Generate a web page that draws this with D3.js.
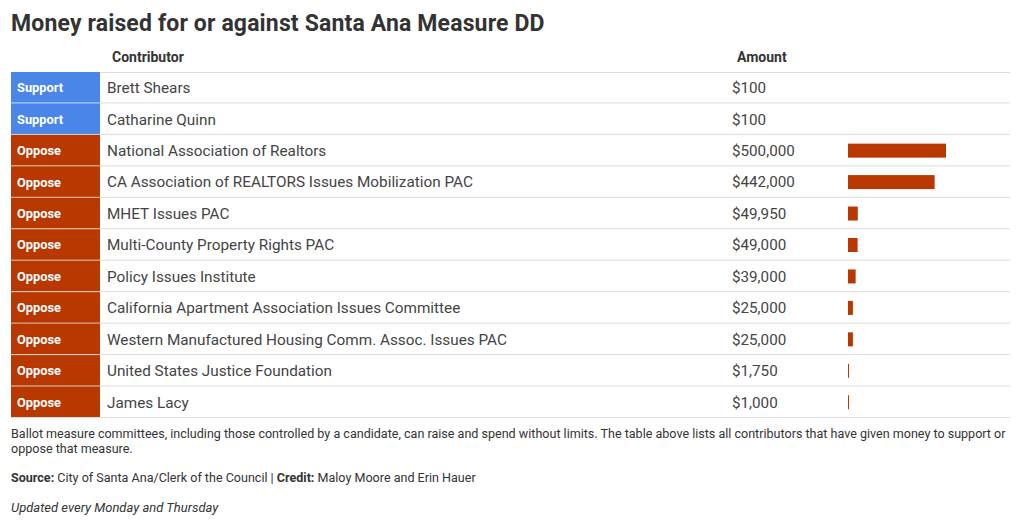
<!DOCTYPE html>
<html>
<head>
<meta charset="UTF-8">
<title>Money raised for or against Santa Ana Measure DD</title>
<script src="https://d3js.org/d3.v7.min.js"></script>
<style>
  body { margin: 0; background: #fff; font-family: Roboto, "Noto Sans", sans-serif; }
  text { font-family: Roboto, "Noto Sans", sans-serif; }
</style>
</head>
<body>
<div id="chart"></div>
<script>
// -- data --
const positions = ["Support", "Support", "Oppose", "Oppose", "Oppose", "Oppose", "Oppose", "Oppose", "Oppose", "Oppose", "Oppose"];
const contributors = [
  "Brett Shears",
  "Catharine Quinn",
  "National Association of Realtors",
  "CA Association of REALTORS Issues Mobilization PAC",
  "MHET Issues PAC",
  "Multi-County Property Rights PAC",
  "Policy Issues Institute",
  "California Apartment Association Issues Committee",
  "Western Manufactured Housing Comm. Assoc. Issues PAC",
  "United States Justice Foundation",
  "James Lacy"
];
const amounts = [100, 100, 500000, 442000, 49950, 49000, 39000, 25000, 25000, 1750, 1000];
const headers = ["Contributor", "Amount"];

const width = 1020, height = 526;
const colour = { Support: "#4a86e8", Oppose: "#b83800" };
const fmt = d3.format("$,");

const svg = d3.select("#chart").append("svg")
  .attr("width", width)
  .attr("height", height);

// -- titre --
svg.append("text")
  .attr("x", 11).attr("y", 31)
  .attr("font-size", 23).attr("font-weight", 700)
  .attr("letter-spacing", 0.15)
  .attr("fill", "#333")
  .text("Money raised for or against Santa Ana Measure DD");

// -- en-tetes --
svg.append("text").attr("x", 112).attr("y", 62)
  .attr("font-size", 14).attr("font-weight", 700).attr("fill", "#333")
  .text(headers[0]);
svg.append("text").attr("x", 737).attr("y", 62)
  .attr("font-size", 14).attr("font-weight", 700).attr("fill", "#333")
  .text(headers[1]);

const rows = d3.range(contributors.length);
const y = d3.scaleBand().domain(rows).range([72, 418]);
const x = d3.scaleLinear().domain([0, 500000]).range([0, 98]);

svg.append("line")
  .attr("x1", 11).attr("x2", 1010).attr("y1", 72.5).attr("y2", 72.5)
  .attr("stroke", "#ddd");

const row = svg.selectAll("g.row")
  .data(rows)
  .enter().append("g")
  .attr("class", "row")
  .attr("transform", i => `translate(0,${y(i)})`);

row.append("rect")
  .attr("x", 11).attr("y", 0)
  .attr("width", 89).attr("height", y.bandwidth())
  .attr("fill", i => colour[positions[i]]);

row.append("text")
  .attr("x", 17).attr("y", y.bandwidth() / 2).attr("dy", "0.35em")
  .attr("font-size", 12.8).attr("font-weight", 700).attr("fill", "#fff")
  .text(i => positions[i]);

row.append("text")
  .attr("x", 107).attr("y", y.bandwidth() / 2).attr("dy", "0.35em")
  .attr("font-size", 15.3).attr("fill", "#444")
  .text(i => contributors[i]);

row.append("text")
  .attr("x", 732).attr("y", y.bandwidth() / 2).attr("dy", "0.35em")
  .attr("font-size", 15.2).attr("fill", "#444")
  .text(i => fmt(amounts[i]));

row.filter(i => x(amounts[i]) >= 0.1).append("rect")
  .attr("x", 848)
  .attr("y", y.bandwidth() / 2 - 7)
  .attr("width", i => Math.max(1, x(amounts[i])))
  .attr("height", 14)
  .attr("fill", i => colour[positions[i]]);

row.append("line")
  .attr("x1", 11).attr("x2", 1010)
  .attr("y1", y.bandwidth() - 0.5).attr("y2", y.bandwidth() - 0.5)
  .attr("stroke", "#ddd");

// -- notes --
const note = svg.append("g").attr("font-size", 12.55).attr("fill", "#333");
note.append("text").attr("x", 11).attr("y", 438)
  .text("Ballot measure committees, including those controlled by a candidate, can raise and spend without limits. The table above lists all contributors that have given money to support or");
note.append("text").attr("x", 11).attr("y", 453)
  .text("oppose that measure.");

const src = note.append("text").attr("x", 11).attr("y", 482);
src.append("tspan").attr("font-weight", 700).text("Source:");
src.append("tspan").text(" City of Santa Ana/Clerk of the Council | ");
src.append("tspan").attr("font-weight", 700).text("Credit:");
src.append("tspan").text(" Maloy Moore and Erin Hauer");

note.append("text").attr("x", 11).attr("y", 512)
  .attr("font-style", "italic").attr("font-size", 13)
  .text("Updated every Monday and Thursday");
</script>
</body>
</html>
